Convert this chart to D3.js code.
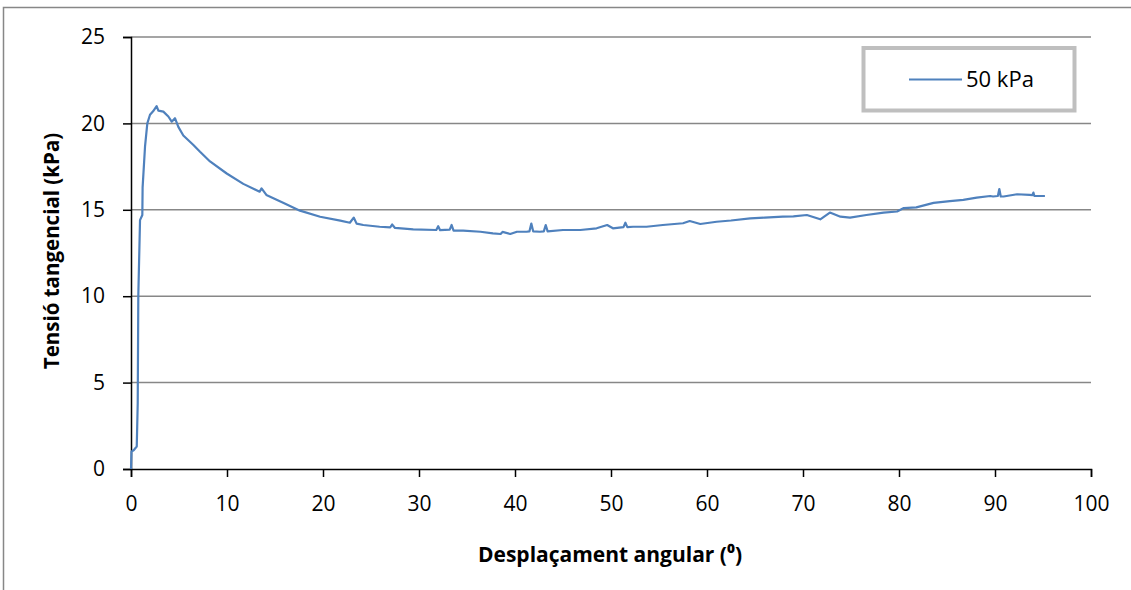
<!DOCTYPE html>
<html>
<head>
<meta charset="utf-8">
<script src="https://cdn.jsdelivr.net/npm/d3@7"></script>
<style>
  body { margin: 0; background: #fff; }
  text { font-family: "Open Sans", "Liberation Sans", sans-serif; }
</style>
</head>
<body>
<div id="chart"></div>
<script>
// values
const dispX = [0, 0.05, 0.3, 0.6, 0.7, 0.76, 0.94, 1.18, 1.21, 1.46, 1.7, 1.98, 2.3, 2.67, 2.85, 3.37, 3.89, 4.24, 4.58, 4.93,
  5.45, 6.5, 7.19, 8.23, 9.97, 11.7, 13.4, 13.6, 14.1, 15.9, 17.6, 19.7, 21.8, 22.8, 23.2, 23.5, 24.2, 25.9, 27.0, 27.2, 27.5, 29.4,
  31.8, 32.0, 32.2, 33.2, 33.4, 33.6, 34.6, 36.4, 37.7, 38.5, 38.7, 39.5, 40.2, 41.2, 41.5, 41.7, 41.9, 42.6, 43.0, 43.2, 43.4,
  45.0, 46.8, 48.5, 49.6, 50.2, 51.3, 51.5, 51.7, 52.3, 53.7, 55.4, 57.5, 58.2, 59.3, 61.0, 62.5, 64.5, 66.0, 67.9, 69.0,
  70.4, 71.8, 72.8, 73.9, 74.9, 76.6, 78.4, 79.8, 80.5, 81.8, 83.6, 85.3, 86.7, 88.1, 89.5, 89.8, 90.3, 90.45, 90.6, 90.9,
  92.3, 93.6, 93.9, 94.0, 94.1, 94.3, 95.2];
const tension = [0, 1.0, 1.1, 1.3, 3.8, 10.0, 14.4, 14.7, 16.3, 18.65, 20.0, 20.5, 20.7, 21.0, 20.74, 20.68, 20.4, 20.1, 20.3, 19.8,
  19.3, 18.75, 18.36, 17.8, 17.1, 16.5, 16.05, 16.24, 15.86, 15.4, 14.95, 14.6, 14.37, 14.25, 14.55, 14.2, 14.12, 14.02, 13.98, 14.15, 13.95, 13.87,
  13.83, 14.05, 13.82, 13.85, 14.12, 13.8, 13.79, 13.73, 13.64, 13.6, 13.72, 13.6, 13.73, 13.73, 13.75, 14.2, 13.75, 13.73, 13.75, 14.12, 13.75,
  13.83, 13.83, 13.93, 14.12, 13.93, 14.0, 14.25, 14.0, 14.02, 14.02, 14.12, 14.22, 14.35, 14.18, 14.31, 14.38, 14.5, 14.55, 14.6, 14.62,
  14.7, 14.45, 14.84, 14.6, 14.55, 14.7, 14.84, 14.9, 15.1, 15.14, 15.4, 15.5, 15.57, 15.7, 15.8, 15.77, 15.8, 16.2, 15.77, 15.77,
  15.9, 15.86, 15.85, 16.0, 15.8, 15.8, 15.8];
const xTicks = [0, 10, 20, 30, 40, 50, 60, 70, 80, 90, 100];
const yTicks = [0, 5, 10, 15, 20, 25];
const seriesName = "50 kPa";

const width = 1131, height = 590;
const margin = {left: 131, right: 40, top: 37, bottom: 121};

const svg = d3.select("#chart").append("svg")
  .attr("width", width)
  .attr("height", height);

// outer chart frame (cut by the picture edges)
svg.append("rect")
  .attr("x", 3.5).attr("y", 7.5)
  .attr("width", 1140).attr("height", 600)
  .style("fill", "none")
  .style("stroke", "#878787")
  .style("stroke-width", 1.5);

const x = d3.scaleLinear().domain([0, 100]).range([margin.left, width - margin.right]);
const y = d3.scaleLinear().domain([0, 25]).range([height - margin.bottom, margin.top]);

// gridlines
svg.append("g").selectAll("line")
  .data(yTicks.filter(d => d > 0))
  .enter().append("line")
  .attr("x1", x(0)).attr("x2", x(100))
  .attr("y1", d => y(d)).attr("y2", d => y(d))
  .style("stroke", "#878787")
  .style("stroke-width", 1.5);

const xAxis = svg.append("g")
  .attr("transform", `translate(0,${y(0)})`)
  .call(d3.axisBottom(x).tickValues(xTicks).tickSize(8).tickPadding(19).tickFormat(d3.format("d")));
const yAxis = svg.append("g")
  .attr("transform", `translate(${x(0)},0)`)
  .call(d3.axisLeft(y).tickValues(yTicks).tickSize(8).tickPadding(18).tickFormat(d3.format("d")));

[xAxis, yAxis].forEach(g => {
  g.select(".domain").style("stroke", "#000").style("stroke-width", 1.5);
  g.selectAll(".tick line").style("stroke", "#000").style("stroke-width", 1.5);
  g.selectAll("text").style("font-size", "21px").style("fill", "#000")
    .style("font-family", "'Open Sans', sans-serif");
});

// series line
const line = d3.line()
  .x((d, i) => x(dispX[i]))
  .y(d => y(d));

svg.append("path")
  .datum(tension)
  .attr("d", line)
  .style("fill", "none")
  .style("stroke", "#4F81BD")
  .style("stroke-width", 2.2)
  .style("stroke-linejoin", "round");

// axis titles
svg.append("text")
  .attr("x", 610).attr("y", 562)
  .attr("text-anchor", "middle")
  .style("font-size", "21px")
  .style("font-weight", "bold")
  .text("Desplaçament angular (⁰)");

svg.append("text")
  .attr("transform", "translate(59,251) rotate(-90)")
  .attr("text-anchor", "middle")
  .style("font-size", "20.5px")
  .style("font-weight", "bold")
  .text("Tensió tangencial (kPa)");

// legend
const legend = svg.append("g");
legend.append("rect")
  .attr("x", 863.5).attr("y", 48)
  .attr("width", 211).attr("height", 62.5)
  .style("fill", "#fff")
  .style("stroke", "#BFBFBF")
  .style("stroke-width", 4);
legend.append("line")
  .attr("x1", 909).attr("x2", 962)
  .attr("y1", 79.5).attr("y2", 79.5)
  .style("stroke", "#4F81BD")
  .style("stroke-width", 2.2);
legend.append("text")
  .attr("x", 966).attr("y", 87)
  .style("font-size", "22px")
  .text(seriesName);
</script>
</body>
</html>
